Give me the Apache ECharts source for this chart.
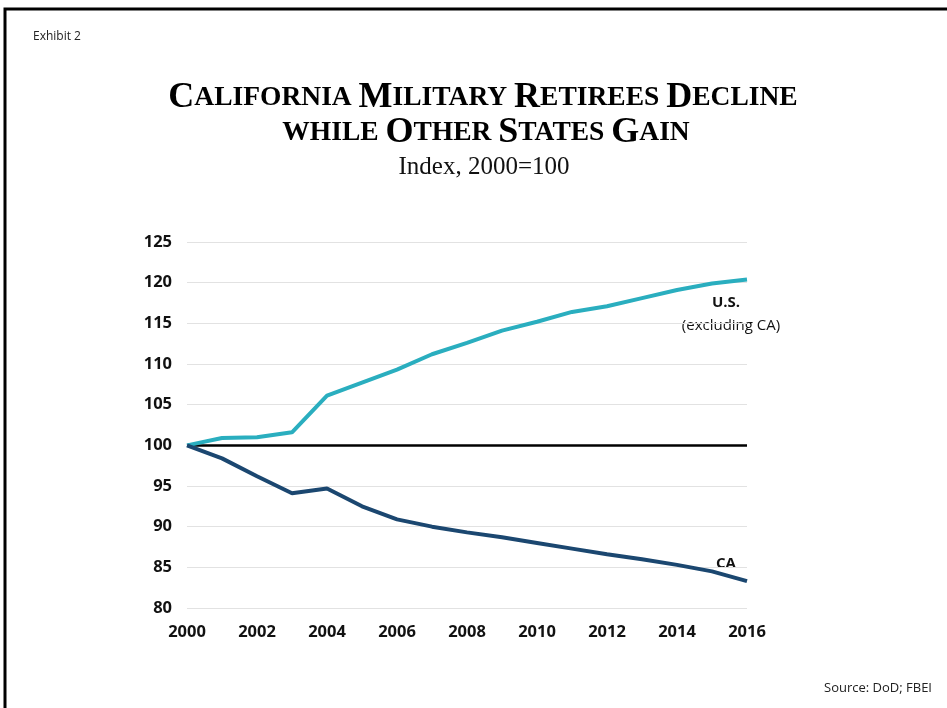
<!DOCTYPE html>
<html><head><meta charset="utf-8">
<script src="https://cdn.jsdelivr.net/npm/echarts@6/dist/echarts.min.js"></script>
<style>html,body{margin:0;padding:0;background:#fff}#c{width:947px;height:708px}</style>
</head><body><div id="c"></div>
<script>
const years = [2000,2001,2002,2003,2004,2005,2006,2007,2008,2009,2010,2011,2012,2013,2014,2015,2016];
const usExCA = [100,100.9,101.0,101.6,106.1,107.7,109.3,111.2,112.6,114.1,115.2,116.4,117.1,118.1,119.1,119.9,120.4];
const caValues = [100,98.4,96.2,94.1,94.7,92.5,90.9,90.0,89.3,88.7,88.0,87.3,86.6,86.0,85.3,84.5,83.3];
const yTicks = [80,85,90,95,100,105,110,115,120,125];
const xTicks = [2000,2002,2004,2006,2008,2010,2012,2014,2016];

const chart = echarts.init(document.getElementById('c'), null, {renderer:'canvas'});
const sans = 'Open Sans';
const serif = 'Liberation Serif';
const rich = {
  B:{fontFamily:serif,fontWeight:'bold',fontSize:36,color:'#111'},
  s:{fontFamily:serif,fontWeight:'bold',fontSize:27.5,color:'#111'}
};
chart.setOption({
  animation:false,
  grid:{left:187,right:200,top:242,bottom:100},
  xAxis:{type:'value',min:2000,max:2016,interval:2,
    axisLine:{show:false},axisTick:{show:false},splitLine:{show:false},
    axisLabel:{margin:16,fontFamily:sans,fontWeight:'bold',fontSize:16.5,color:'#111',formatter:v=>String(v)}},
  yAxis:{type:'value',min:80,max:125,interval:5,
    axisLine:{show:false},axisTick:{show:false},
    splitLine:{lineStyle:{color:'#e2e2e2',width:1}},
    axisLabel:{margin:15,fontFamily:sans,fontWeight:'bold',fontSize:16.5,color:'#111'}},
  series:[
    {name:'U.S. (excluding CA)',type:'line',data:years.map((y,i)=>[y,usExCA[i]]),showSymbol:false,
     lineStyle:{color:'#2aaebf',width:4},itemStyle:{color:'#2aaebf'},z:3},
    {name:'CA',type:'line',data:years.map((y,i)=>[y,caValues[i]]),showSymbol:false,
     lineStyle:{color:'#1b4770',width:4},itemStyle:{color:'#1b4770'},z:3,
     markLine:{silent:true,symbol:'none',label:{show:false},lineStyle:{color:'#000',width:2.5,type:'solid'},data:[{yAxis:100}],z:2}}
  ],
  graphic:[
    {type:'rect',shape:{x:5,y:9,width:960,height:712},style:{fill:'none',stroke:'#000',lineWidth:3},z:100},
    {type:'text',x:33,y:37,style:{text:'Exhibit 2',font:'12px "Open Sans"',fill:'#222',verticalAlign:'middle'}},
    {type:'text',x:483,y:116,style:{text:'{B|C}{s|ALIFORNIA }{B|M}{s|ILITARY }{B|R}{s|ETIREES }{B|D}{s|ECLINE}',rich:rich,align:'center',verticalAlign:'bottom'}},
    {type:'text',x:486,y:151,style:{text:'{s|WHILE }{B|O}{s|THER }{B|S}{s|TATES }{B|G}{s|AIN}',rich:rich,align:'center',verticalAlign:'bottom'}},
    {type:'text',x:484,y:167,style:{text:'Index, 2000=100',font:'25px "Liberation Serif"',fill:'#111',align:'center',verticalAlign:'middle'}},
    {type:'text',x:726,y:303,style:{text:'U.S.',font:'bold 15px "Open Sans"',fill:'#111',align:'center',verticalAlign:'middle'}},
    {type:'text',x:731,y:326,style:{text:'(excluding CA)',font:'15px "Open Sans"',fill:'#111',align:'center',verticalAlign:'middle'}},
    {type:'text',x:726,y:564,style:{text:'CA',font:'bold 15px "Open Sans"',fill:'#111',align:'center',verticalAlign:'middle'}},
    {type:'text',x:932,y:688,style:{text:'Source: DoD; FBEI',font:'13px "Open Sans"',fill:'#222',align:'right',verticalAlign:'middle'}}
  ]
});
</script></body></html>
